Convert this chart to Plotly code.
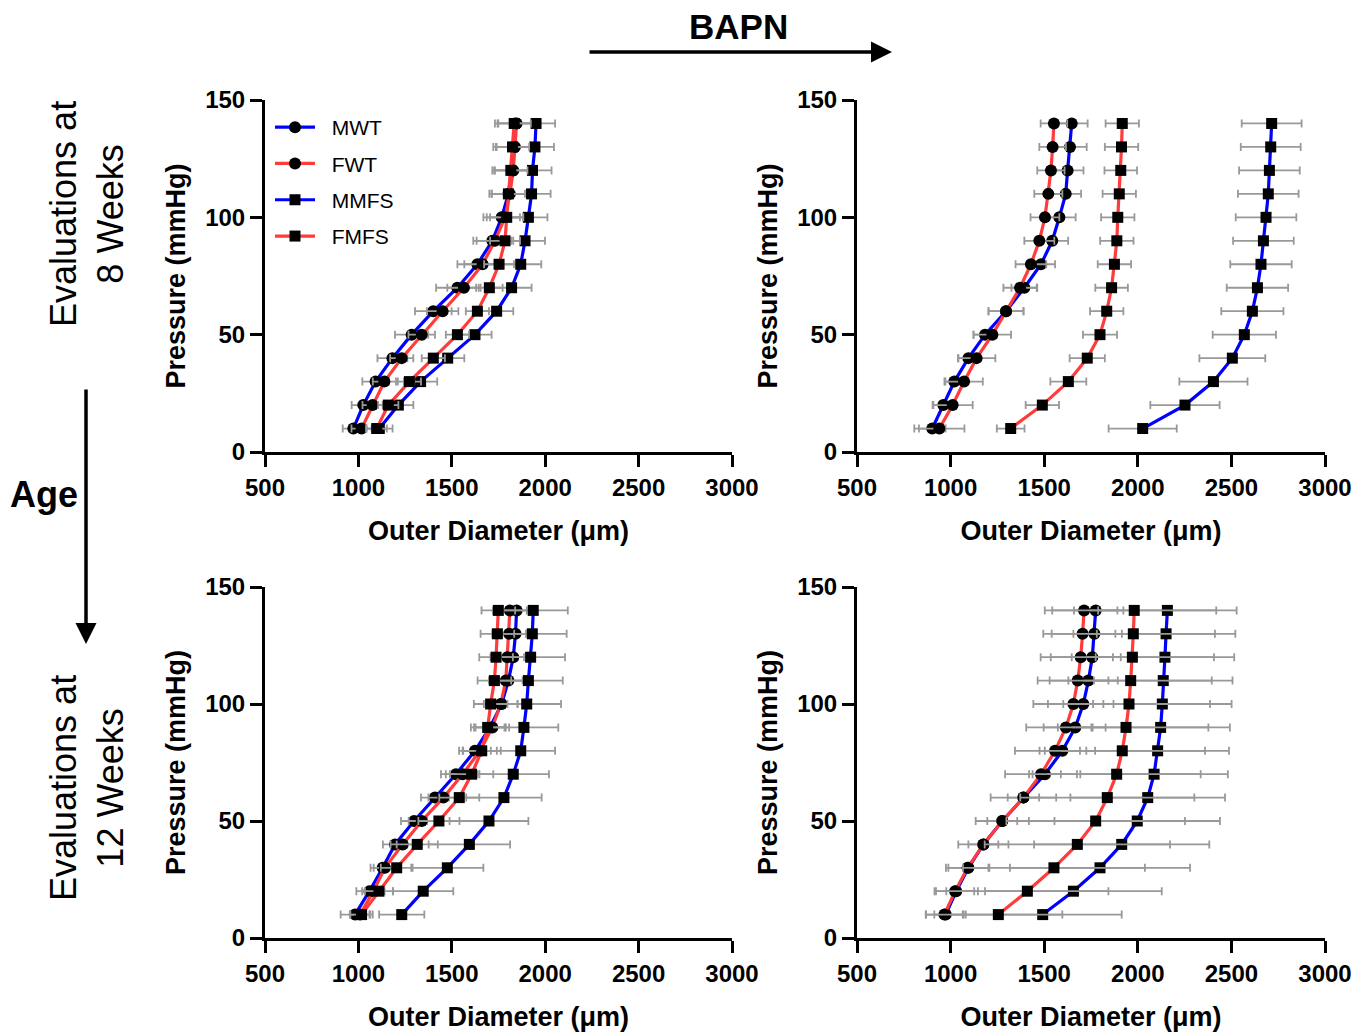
import plotly.graph_objects as go

# page is offset by the 8px body margin of the html page
OFF = 8
W, H = 1371 - 2 * OFF, 1034 - OFF

pressure = [10, 20, 30, 40, 50, 60, 70, 80, 90, 100, 110, 120, 130, 140]
series_names = ["MWT", "FWT", "MMFS", "FMFS"]

# ---- 8 weeks, no BAPN (top-left) ----
tl_mwt = [973, 1026, 1092, 1182, 1285, 1401, 1530, 1637, 1717, 1767, 1803, 1820, 1829, 1838]
tl_fwt = [1017, 1076, 1139, 1232, 1339, 1451, 1565, 1665, 1731, 1785, 1811, 1829, 1838, 1847]
tl_mmfs = [1112, 1214, 1333, 1478, 1624, 1740, 1820, 1869, 1892, 1910, 1927, 1932, 1945, 1951]
tl_fmfs = [1098, 1160, 1273, 1401, 1530, 1637, 1701, 1753, 1785, 1794, 1803, 1816, 1825, 1834]
tl_mwt_e = [57, 62, 71, 80, 89, 98, 114, 107, 102, 98, 102, 103, 107, 107]
tl_fwt_e = [54, 54, 62, 62, 71, 84, 89, 98, 98, 98, 98, 98, 98, 98]
tl_mmfs_e = [71, 80, 89, 89, 89, 89, 107, 110, 107, 102, 102, 102, 102, 102]
tl_fmfs_e = [54, 54, 62, 62, 62, 62, 71, 80, 80, 89, 89, 89, 89, 89]

# ---- 8 weeks, BAPN (top-right) ----
tr_mwt = [902, 961, 1020, 1095, 1184, 1296, 1394, 1483, 1543, 1581, 1615, 1625, 1638, 1647]
tr_fwt = [940, 1011, 1072, 1139, 1223, 1296, 1371, 1429, 1474, 1504, 1522, 1536, 1545, 1552]
tr_mmfs = [2026, 2252, 2404, 2505, 2569, 2612, 2639, 2658, 2671, 2685, 2697, 2703, 2710, 2715]
tr_fmfs = [1321, 1490, 1629, 1730, 1798, 1834, 1860, 1875, 1888, 1893, 1901, 1909, 1913, 1917]
tr_mwt_e = [71, 53, 53, 53, 62, 93, 69, 75, 85, 87, 82, 85, 89, 85]
tr_fwt_e = [134, 107, 100, 100, 100, 94, 89, 82, 80, 77, 75, 73, 71, 71]
tr_mmfs_e = [182, 185, 182, 176, 169, 166, 164, 164, 162, 162, 162, 162, 160, 160]
tr_fmfs_e = [74, 89, 96, 94, 91, 89, 87, 89, 89, 89, 89, 87, 89, 89]

# ---- 12 weeks, no BAPN (bottom-left) ----
bl_mwt = [982, 1059, 1130, 1196, 1298, 1410, 1522, 1624, 1704, 1767, 1803, 1829, 1841, 1847]
bl_fwt = [1009, 1080, 1142, 1237, 1339, 1455, 1558, 1651, 1717, 1762, 1789, 1797, 1807, 1811]
bl_mmfs = [1232, 1347, 1476, 1594, 1699, 1779, 1829, 1869, 1886, 1901, 1910, 1922, 1931, 1936]
bl_fmfs = [1017, 1110, 1205, 1315, 1431, 1540, 1606, 1660, 1692, 1708, 1728, 1737, 1744, 1749]
bl_mwt_e = [77, 70, 65, 65, 70, 75, 80, 85, 85, 85, 85, 85, 85, 85]
bl_fwt_e = [55, 60, 60, 65, 70, 80, 90, 90, 90, 90, 90, 90, 90, 90]
bl_mmfs_e = [121, 161, 193, 218, 211, 202, 191, 184, 184, 184, 184, 184, 184, 185]
bl_fmfs_e = [60, 75, 85, 110, 110, 107, 116, 102, 90, 90, 90, 90, 90, 90]

# ---- 12 weeks, BAPN (bottom-right) ----
br_mwt = [974, 1030, 1095, 1175, 1276, 1389, 1504, 1597, 1666, 1709, 1736, 1757, 1768, 1775]
br_fwt = [967, 1024, 1091, 1175, 1276, 1389, 1483, 1558, 1616, 1656, 1679, 1695, 1705, 1713]
br_mmfs = [1492, 1656, 1798, 1914, 1997, 2053, 2087, 2106, 2122, 2131, 2136, 2145, 2151, 2158]
br_fmfs = [1255, 1410, 1552, 1677, 1775, 1837, 1887, 1917, 1937, 1953, 1962, 1971, 1976, 1981]
br_mwt_e = [107, 116, 107, 80, 80, 84, 85, 94, 93, 107, 107, 110, 112, 116]
br_fwt_e = [98, 102, 116, 134, 142, 175, 192, 214, 212, 214, 214, 214, 210, 210]
br_mmfs_e = [422, 472, 481, 468, 442, 413, 394, 381, 370, 370, 370, 370, 370, 370]
br_fmfs_e = [342, 433, 486, 495, 477, 465, 449, 442, 440, 433, 433, 436, 436, 438]

x_ticks = [500, 1000, 1500, 2000, 2500, 3000]
y_ticks = [0, 50, 100, 150]

BLUE = "#0000FF"
RED = "#FF3B3B"
styles = {
    "MWT": (BLUE, "circle", 12),
    "FWT": (RED, "circle", 12),
    "MMFS": (BLUE, "square", 11),
    "FMFS": (RED, "square", 11),
}

panels = [
    ("x", "y", [tl_mwt, tl_fwt, tl_mmfs, tl_fmfs], [tl_mwt_e, tl_fwt_e, tl_mmfs_e, tl_fmfs_e], True),
    ("x2", "y2", [tr_mwt, tr_fwt, tr_mmfs, tr_fmfs], [tr_mwt_e, tr_fwt_e, tr_mmfs_e, tr_fmfs_e], False),
    ("x3", "y3", [bl_mwt, bl_fwt, bl_mmfs, bl_fmfs], [bl_mwt_e, bl_fwt_e, bl_mmfs_e, bl_fmfs_e], False),
    ("x4", "y4", [br_mwt, br_fwt, br_mmfs, br_fmfs], [br_mwt_e, br_fwt_e, br_mmfs_e, br_fmfs_e], False),
]

fig = go.Figure()
for xa, ya, vals, errs, show in panels:
    for name, v, e in zip(series_names, vals, errs):
        color, sym, msize = styles[name]
        fig.add_trace(go.Scatter(
            x=v, y=pressure, xaxis=xa, yaxis=ya,
            mode="lines+markers", name="\u00a0\u00a0" + name, showlegend=show,
            legendgroup=name,
            line=dict(color=color, width=3.2),
            marker=dict(color="black", symbol=sym, size=msize),
            error_x=dict(type="data", array=e, color="#999999", thickness=1.8, width=4),
        ))

def px_x(p):
    return (p - OFF) / W

def px_y(p):
    return 1 - (p - OFF) / H

xdom_l = [px_x(265), px_x(732)]
xdom_r = [px_x(857), px_x(1325)]
ydom_t = [px_y(452), px_y(100)]
ydom_b = [px_y(938), px_y(587)]

FAM = "Liberation Sans, Arial, sans-serif"
tickfont = dict(family=FAM, size=24, color="black", weight="bold")
titlefont = dict(family=FAM, size=27, color="black", weight="bold")

def xaxis(dom, anchor):
    return dict(domain=dom, anchor=anchor, range=[500, 3000], tickvals=x_ticks,
                showgrid=False, zeroline=False, showline=True, linecolor="black", linewidth=3,
                ticks="outside", ticklen=12, tickwidth=3, tickcolor="black",
                tickfont=tickfont, automargin=False,
                title=dict(text="Outer Diameter (μm)", font=titlefont, standoff=22))

def yaxis(dom, anchor):
    return dict(domain=dom, anchor=anchor, range=[0, 150], tickvals=y_ticks,
                showgrid=False, zeroline=False, showline=True, linecolor="black", linewidth=3,
                ticks="outside", ticklen=12, tickwidth=3, tickcolor="black",
                tickfont=tickfont, automargin=False,
                title=dict(text="Pressure (mmHg)", font=titlefont, standoff=12))

fig.update_layout(
    width=W, height=H,
    margin=dict(l=0, r=0, t=0, b=0, autoexpand=False),
    paper_bgcolor="white", plot_bgcolor="white",
    xaxis=xaxis(xdom_l, "y"), yaxis=yaxis(ydom_t, "x"),
    xaxis2=xaxis(xdom_r, "y2"), yaxis2=yaxis(ydom_t, "x2"),
    xaxis3=xaxis(xdom_l, "y3"), yaxis3=yaxis(ydom_b, "x3"),
    xaxis4=xaxis(xdom_r, "y4"), yaxis4=yaxis(ydom_b, "x4"),
    legend=dict(x=px_x(270), y=px_y(107), xanchor="left", yanchor="top",
                bgcolor="rgba(0,0,0,0)", font=dict(family=FAM, size=21, color="black"),
                traceorder="grouped", tracegroupgap=6, itemwidth=40),
    showlegend=True,
)

annotations = [
    dict(text="<b>BAPN</b>", x=px_x(738), y=px_y(26), xref="paper", yref="paper",
         xanchor="center", yanchor="middle",
         showarrow=False, font=dict(family=FAM, size=35, color="black")),
    dict(text="", x=px_x(892), y=px_y(52), ax=-(892 - 588), ay=0,
         xref="paper", yref="paper", axref="pixel", ayref="pixel",
         showarrow=True, arrowhead=2, arrowsize=1.2, arrowwidth=3.5, arrowcolor="black"),
    dict(text="<b>Age</b>", x=px_x(44), y=px_y(495), xref="paper", yref="paper",
         xanchor="center", yanchor="middle",
         showarrow=False, font=dict(family=FAM, size=36, color="black")),
    dict(text="", x=px_x(86), y=px_y(644), ax=0, ay=-(644 - 388),
         xref="paper", yref="paper", axref="pixel", ayref="pixel",
         showarrow=True, arrowhead=2, arrowsize=1.2, arrowwidth=3.5, arrowcolor="black"),
    dict(text="Evaluations at<br>8 Weeks", x=px_x(87), y=px_y(214), xref="paper", yref="paper",
         xanchor="center", yanchor="middle",
         showarrow=False, textangle=-90,
         font=dict(family=FAM, size=36, color="black")),
    dict(text="Evaluations at<br>12 Weeks", x=px_x(87), y=px_y(788), xref="paper", yref="paper",
         xanchor="center", yanchor="middle",
         showarrow=False, textangle=-90,
         font=dict(family=FAM, size=36, color="black")),
]
fig.update_layout(annotations=annotations)

fig.write_html("out.html")
